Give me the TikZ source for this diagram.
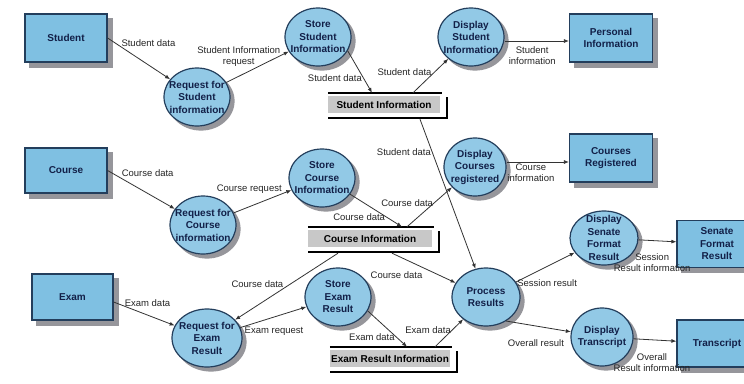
\documentclass[tikz,border=0pt]{standalone}
\usepackage{fontspec}
\setmainfont{Liberation Sans}
\usetikzlibrary{arrows.meta,shapes.geometric,calc,backgrounds}

\definecolor{dfdfill}{RGB}{127,192,226}
\definecolor{dfdline}{RGB}{35,62,92}
\definecolor{dfdtext}{RGB}{18,32,72}
\definecolor{storefill}{RGB}{200,200,200}
\definecolor{dfdshadow}{RGB}{150,150,155}

\tikzset{
  entity/.style={draw=dfdline, line width=1.2pt, fill=dfdfill,
    minimum width=82pt, minimum height=48pt, align=center, text=dfdtext,
    font=\fontsize{10}{12.5}\selectfont\bfseries},
  process/.style={ellipse, draw=dfdline, line width=1.2pt, fill=dfdfill!85!white,
    minimum width=66pt, minimum height=58pt, inner xsep=-6pt, inner ysep=-4pt,
    align=center, text=dfdtext, font=\fontsize{10}{12.5}\selectfont\bfseries},
  datastore/.style={fill=storefill, minimum height=17pt, inner sep=0pt,
    font=\fontsize{10}{12}\selectfont\bfseries},
  storeline/.style={line width=2.5pt},
  flow/.style={draw=black!80, line width=0.8pt, -{Latex[length=5pt,width=4pt]}},
  lbl/.style={font=\fontsize{9.5}{11}\selectfont, text=black!85, inner sep=1pt, align=center}
}

\begin{document}
\begin{tikzpicture}[x=1pt, y=-1pt]
\useasboundingbox (0,0) rectangle (744,383);

% external entities
\node[entity] (stu) at (66,38) {Student};
\node[entity, minimum width=83pt] (pers) at (611,38) {Personal\\Information};
\node[entity, minimum height=45pt] (crs) at (66,170.5) {Course};
\node[entity, minimum width=83pt] (creg) at (611,158) {Courses\\Registered};
\node[entity, minimum width=81pt, minimum height=46pt] (exm) at (72.5,297) {Exam};
\node[entity, minimum width=80pt, minimum height=47pt] (senr) at (717,244) {Senate\\Format\\Result};
\node[entity, minimum width=80pt, minimum height=47pt] (trans) at (717,343.5) {Transcript};

% processes
\node[process] (rsi) at (197,97) {Request for\\Student\\information};
\node[process] (ssi) at (318,37) {Store\\Student\\Information};
\node[process] (dsi) at (471,37) {Display\\Student\\Information};
\node[process] (rci) at (203,225) {Request for\\Course\\information};
\node[process] (sci) at (322,178) {Store\\Course\\Information};
\node[process, minimum width=62pt] (dcr) at (475,167) {Display\\Courses\\registered};
\node[process, minimum width=70pt] (rer) at (207,338) {Request for\\Exam\\Result};
\node[process] (ser) at (338,297) {Store\\Exam\\Result};
\node[process, minimum width=68pt] (pr) at (486,297) {Process\\Results};
\node[process, minimum width=68pt, minimum height=54pt] (dsf) at (604,238) {Display\\Senate\\Format\\Result};
\node[process, minimum width=62pt] (dtr) at (602,337) {Display\\Transcript};

% data stores
\node[datastore, minimum width=112pt] (sist) at (384,104.5) {Student Information};
\node[datastore, minimum width=124pt] (cist) at (370,238.5) {Course Information};
\node[datastore, minimum width=120pt] (erst) at (390,358.5) {Exam Result Information};
\foreach \s in {sist,cist,erst} {
  \draw[storeline] ([yshift=3pt]\s.north west) -- ([xshift=2pt,yshift=3pt]\s.north east);
  \draw[storeline] ([xshift=7pt,yshift=-1.5pt]\s.north east) -- ([xshift=7pt,yshift=-5pt]\s.south east)
    -- ([yshift=-5pt]\s.south west);
}

% shadows
\begin{pgfonlayer}{background}
\fill[white] (0,0) rectangle (744,383);
\foreach \e in {stu,pers,crs,creg,exm,senr,trans}
  \fill[dfdshadow] ([shift={(5pt,-5pt)}]\e.north west) rectangle ([shift={(5pt,-5pt)}]\e.south east);
\foreach \q in {rsi,ssi,dsi,rci,sci,dcr,rer,ser,pr,dsf,dtr}
  \fill[dfdshadow] let \p1=(\q.east), \p2=(\q.north), \p3=(\q.center) in
    ([shift={(4pt,-4pt)}]\q.center) ellipse ({\x1-\x3} and {\y2-\y3});
\end{pgfonlayer}

% student flows
\draw[flow] (stu.east) -- (rsi) node[lbl, pos=.2, anchor=south west, yshift=-2pt] {Student data};
\draw[flow] (rsi) -- (ssi) node[lbl, pos=.2, above=8pt] {Student Information\\request};
\draw[flow] (ssi.-25) -- ([xshift=-12pt,yshift=3pt]sist.north) node[lbl, pos=.64, anchor=east] {Student data};
\draw[flow] ([xshift=29pt,yshift=3pt]sist.north) -- (dsi) node[lbl, pos=.62, anchor=east, xshift=-2pt] {Student data};
\draw[flow] ([yshift=-4pt]dsi.east) -- ([yshift=-4pt]dsi.east -| pers.west) node[lbl, pos=.43, below=4pt] {Student\\information};
\draw[flow] ([xshift=36pt,yshift=-6pt]sist.south) -- (pr) node[lbl, pos=.22, anchor=east] {Student data};

% course flows
\draw[flow] (crs.east) -- (rci) node[lbl, pos=.19, anchor=south west] {Course data};
\draw[flow] (rci) -- (sci) node[lbl, pos=.27, above=12pt] {Course request};
\draw[flow] (sci.-30) -- ([xshift=32pt,yshift=3pt]cist.north) node[lbl, pos=.7, anchor=east] {Course data};
\draw[flow] ([xshift=37pt,yshift=3pt]cist.north) -- (dcr) node[lbl, pos=.61, anchor=east] {Course data};
\draw[flow] ([yshift=5pt]dcr.east) -- ([yshift=5pt]dcr.east -| creg.west) node[lbl, pos=.39, below=0pt] {Course\\information};
\draw[flow] ([xshift=-32pt,yshift=-6pt]cist.south) -- (rer) node[lbl, pos=.46, anchor=east, xshift=-6pt] {Course data};
\draw[flow] ([xshift=22pt,yshift=-6pt]cist.south) -- (pr) node[lbl, pos=.5, anchor=north east, yshift=-2pt] {Course data};

% exam flows
\draw[flow] ([yshift=-5pt]exm.east) -- (rer) node[lbl, pos=.16, anchor=south west, yshift=-2pt] {Exam data};
\draw[flow] (rer) -- (ser) node[lbl, pos=0, anchor=north west, xshift=3pt, yshift=2pt] {Exam request};
\draw[flow] (ser.-25) -- ([xshift=17pt,yshift=3pt]erst.north) node[lbl, pos=.72, anchor=east] {Exam data};
\draw[flow] ([xshift=45pt,yshift=3pt]erst.north) -- (pr) node[lbl, pos=.61, anchor=east] {Exam data};

% results
\draw[flow] (pr) -- (dsf) node[lbl, pos=0, anchor=north west, yshift=4pt] {Session result};
\draw[flow] (pr.-50) -- (dtr) node[lbl, pos=.46, below=12pt] {Overall result};
\draw[flow] (dsf) -- (senr) node[lbl, pos=.36, below=12pt] {Session\\Result information};
\draw[flow] (dtr) -- (trans) node[lbl, pos=.43, below=12pt] {Overall\\Result information};
\end{tikzpicture}
\end{document}
